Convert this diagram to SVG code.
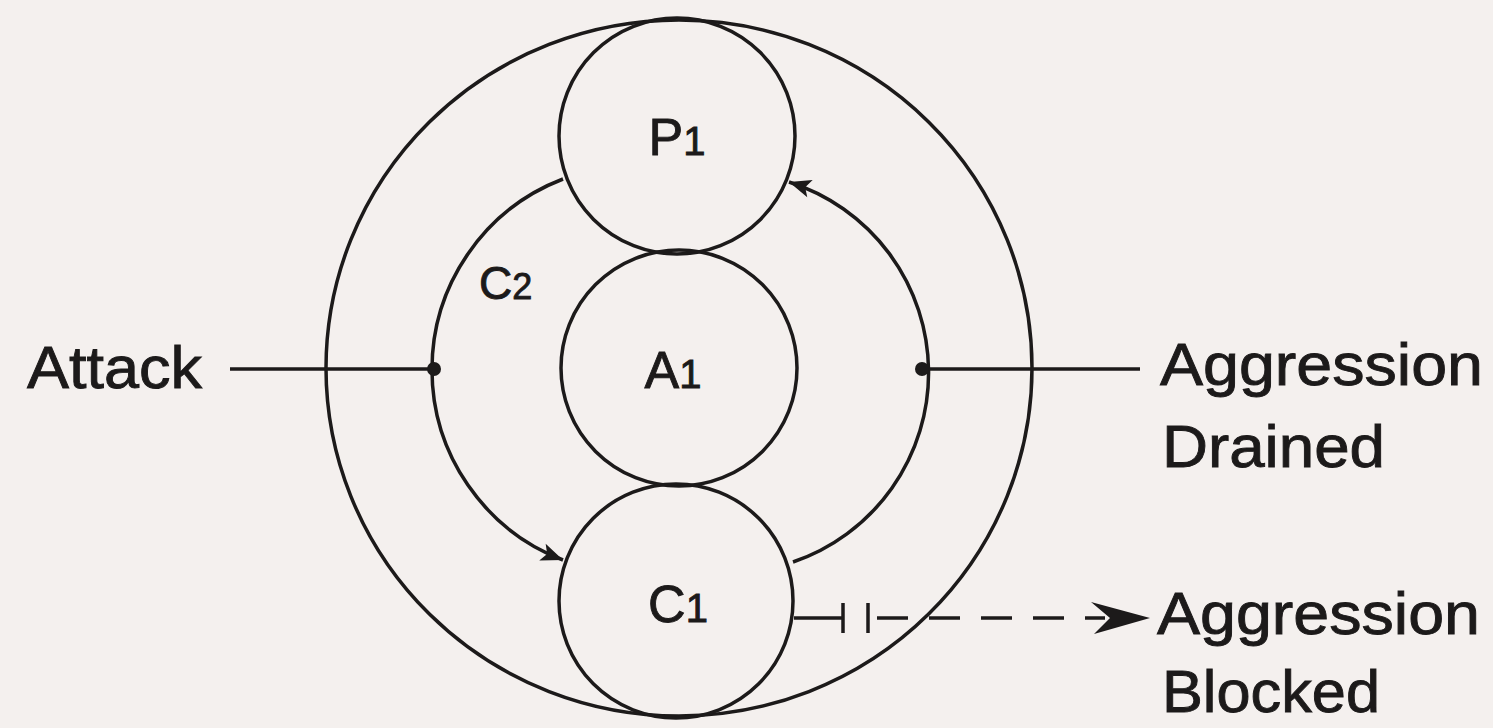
<svg xmlns="http://www.w3.org/2000/svg" width="1493" height="728" viewBox="0 0 1493 728">
  <defs>
    <style>
      .ln { fill: none; stroke: #1c1a1a; stroke-width: 3.5; }
      .txt { font-family: "Liberation Sans", Arial, sans-serif; fill: #1c1a1a; stroke: #1c1a1a; stroke-width: 0.9; }
      .lbl { font-size: 60px; }
      .nd { font-size: 52px; text-anchor: middle; }
      .sub { font-size: 40px; }
      .dot { fill: #1c1a1a; }
    </style>
    <marker id="arr" markerUnits="userSpaceOnUse" markerWidth="30" markerHeight="30" viewBox="0 0 30 30" refX="24" refY="15" orient="auto">
      <path d="M2,6 L24,15 L2,24 L7,15 Z" fill="#1c1a1a"/>
    </marker>
  </defs>
  <rect width="1493" height="728" fill="#f4f0ee"/>

  <g id="outer">
    <ellipse class="ln" cx="679" cy="368" rx="353" ry="348"/>
  </g>

  <g id="connectors">
    <path id="c2-left" class="ln" d="M563,179 A204,204 0 0 0 563,560" marker-end="url(#arr)"/>
    <path id="right-loop" class="ln" d="M793,562 A200,200 0 0 0 789,182" marker-end="url(#arr)"/>
    <line id="attack-line" class="ln" x1="230" y1="369" x2="434" y2="369"/>
    <line id="drained-line" class="ln" x1="922" y1="369" x2="1140" y2="369"/>
    <circle class="dot" cx="434" cy="369" r="7"/>
    <circle class="dot" cx="922" cy="369" r="7"/>
    <g id="blocked">
      <line class="ln" x1="794" y1="618" x2="843" y2="618" stroke-width="4"/>
      <line class="ln" x1="843" y1="603" x2="843" y2="633" stroke-width="5"/>
      <line class="ln" x1="868" y1="603" x2="868" y2="633" stroke-width="5"/>
      <line class="ln" x1="877" y1="618" x2="1105" y2="618" stroke-dasharray="31 21"/>
      <path d="M1150,618 L1091,602 L1110,618 L1094,634 Z" fill="#1c1a1a"/>
    </g>
  </g>

  <g id="P1">
    <circle class="ln" cx="677" cy="136" r="118" fill="#f4f0ee"/>
    <text class="txt nd" x="677" y="155">P<tspan class="sub">1</tspan></text>
  </g>
  <g id="A1">
    <circle class="ln" cx="679" cy="368" r="118" fill="#f4f0ee"/>
    <text class="txt nd" x="673" y="388">A<tspan class="sub">1</tspan></text>
  </g>
  <g id="C1">
    <circle class="ln" cx="676" cy="601" r="117" fill="#f4f0ee"/>
    <text class="txt nd" x="678" y="622">C<tspan class="sub">1</tspan></text>
  </g>

  <g id="labels">
    <text class="txt" x="479" y="299" font-size="46">C<tspan font-size="36">2</tspan></text>
    <text class="txt lbl" x="27" y="388" textLength="175" lengthAdjust="spacingAndGlyphs">Attack</text>
    <text class="txt lbl" x="1160" y="385" font-size="56" textLength="323" lengthAdjust="spacingAndGlyphs">Aggression</text>
    <text class="txt lbl" x="1162" y="467" font-size="56" textLength="223" lengthAdjust="spacingAndGlyphs">Drained</text>
    <text class="txt lbl" x="1157" y="634" font-size="56" textLength="323" lengthAdjust="spacingAndGlyphs">Aggression</text>
    <text class="txt lbl" x="1162" y="712" font-size="54" textLength="218" lengthAdjust="spacingAndGlyphs">Blocked</text>
  </g>
</svg>
